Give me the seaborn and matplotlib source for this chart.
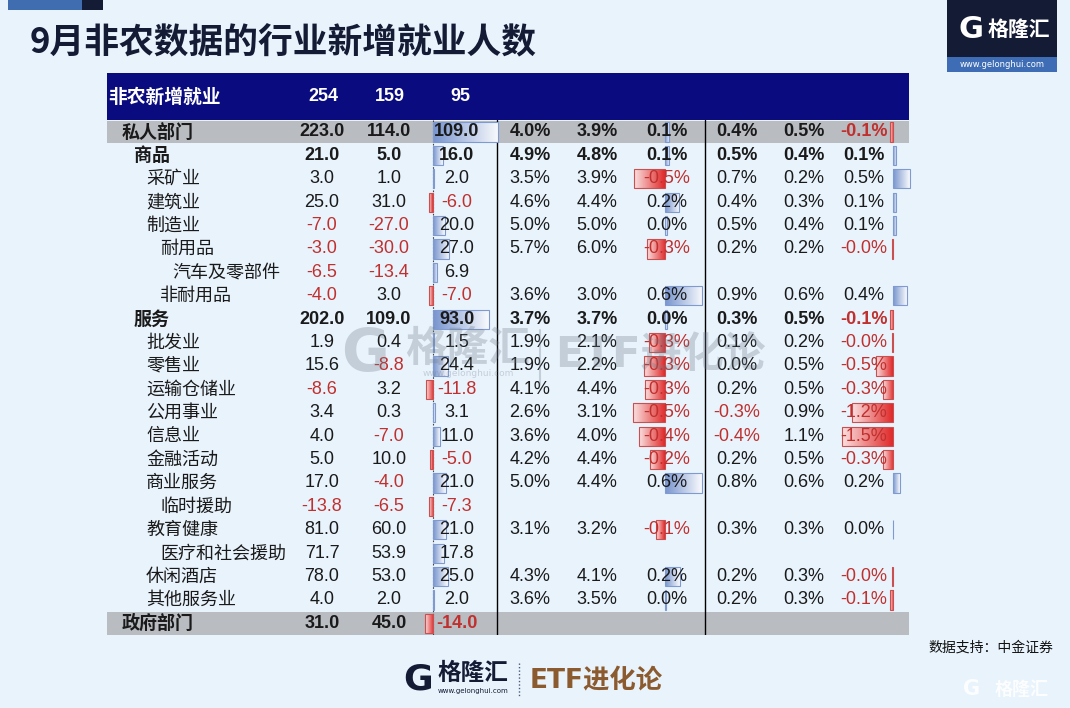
import numpy as np
import pandas as pd
import seaborn as sns
import matplotlib
matplotlib.use('Agg')
from matplotlib import pyplot as plt
from matplotlib.patches import Rectangle
from matplotlib.colors import LinearSegmentedColormap

# 行业名称与缩进层级
rows = ['私人部门', '商品', '采矿业', '建筑业', '制造业', '耐用品', '汽车及零部件', '非耐用品',
        '服务', '批发业', '零售业', '运输仓储业', '公用事业', '信息业', '金融活动', '商业服务',
        '临时援助', '教育健康', '医疗和社会援助', '休闲酒店', '其他服务业', '政府部门']
levels = [0, 1, 2, 2, 2, 3, 4, 3, 1, 2, 2, 2, 2, 2, 2, 2, 3, 2, 3, 2, 2, 0]
header_vals = ['254', '159', '95']

# 新增就业（千人）
jobs_a = [223.0, 21.0, 3.0, 25.0, -7.0, -3.0, -6.5, -4.0, 202.0, 1.9, 15.6, -8.6, 3.4, 4.0,
          5.0, 17.0, -13.8, 81.0, 71.7, 78.0, 4.0, 31.0]
jobs_b = [114.0, 5.0, 1.0, 31.0, -27.0, -30.0, -13.4, 3.0, 109.0, 0.4, -8.8, 3.2, 0.3, -7.0,
          10.0, -4.0, -6.5, 60.0, 53.9, 53.0, 2.0, 45.0]
jobs_diff = [109.0, 16.0, 2.0, -6.0, 20.0, 27.0, 6.9, -7.0, 93.0, 1.5, 24.4, -11.8, 3.1, 11.0,
             -5.0, 21.0, -7.3, 21.0, 17.8, 25.0, 2.0, -14.0]

nan = np.nan
# 薪资同比（%）
wage_a = [4.0, 4.9, 3.5, 4.6, 5.0, 5.7, nan, 3.6, 3.7, 1.9, 1.9, 4.1, 2.6, 3.6, 4.2, 5.0, nan,
          3.1, nan, 4.3, 3.6, nan]
wage_b = [3.9, 4.8, 3.9, 4.4, 5.0, 6.0, nan, 3.0, 3.7, 2.1, 2.2, 4.4, 3.1, 4.0, 4.4, 4.4, nan,
          3.2, nan, 4.1, 3.5, nan]
wage_diff = [0.07, 0.07, -0.5, 0.23, 0.03, -0.3, nan, 0.61, 0.03, -0.26, -0.34, -0.33, -0.53,
             -0.42, -0.24, 0.6, nan, -0.14, nan, 0.24, 0.02, nan]
# 薪资环比（%）
mom_a = [0.4, 0.5, 0.7, 0.4, 0.5, 0.2, nan, 0.9, 0.3, 0.1, 0.0, 0.2, -0.3, -0.4, 0.2, 0.8, nan,
         0.3, nan, 0.2, 0.2, nan]
mom_b = [0.5, 0.4, 0.2, 0.3, 0.4, 0.2, nan, 0.6, 0.5, 0.2, 0.5, 0.5, 0.9, 1.1, 0.5, 0.6, nan,
         0.3, nan, 0.3, 0.3, nan]
mom_diff = [-0.1, 0.1, 0.5, 0.1, 0.1, -0.02, nan, 0.4, -0.1, -0.02, -0.5, -0.3, -1.2, -1.5,
            -0.3, 0.2, nan, 0.0, nan, -0.02, -0.1, nan]

W, H = 1070, 708
BG = '#E8F3FC'
NAVY = '#0B0B80'
DARK = '#141B34'
RED = '#C0302E'
CJK = ['Noto Sans CJK SC', 'DejaVu Sans']
NUM = ['Liberation Sans', 'Noto Sans CJK SC']

sns.set_style('white')
plt.rcParams['font.family'] = CJK

fig = plt.figure(figsize=(W / 100, H / 100), dpi=100, facecolor=BG)

# 表格区域（行号为纵坐标，横向为像素）
row0, rowh, top_px = 132, 23.4, 73
bottom_px = row0 + rowh * (len(rows) - 0.5)
ytop = -0.5 - (row0 - rowh / 2 - top_px) / rowh
tab_pos = [0, 1 - bottom_px / H, 1, (bottom_px - top_px) / H]
ylims = (len(rows) - 0.5, ytop)

bg = fig.add_axes(tab_pos, zorder=0)
bg.set_xlim(0, W)
bg.set_ylim(*ylims)
bg.axis('off')
bg.add_patch(Rectangle((107, ytop), 802, -0.5 - ytop, color=NAVY, lw=0))
for i, lv in enumerate(levels):
    if lv == 0:
        bg.add_patch(Rectangle((107, i - 0.48), 802, 0.96, color='#B9BCC1', lw=0))
bg.plot([497, 497], [-0.5, len(rows) - 0.5], color='black', lw=1)
bg.plot([705, 705], [-0.5, len(rows) - 0.5], color='black', lw=1)
bg.plot([433, 433], [-0.5, len(rows) - 0.5], color='#444444', lw=0.8, ls=(0, (1.5, 1.5)))


def bar_column(values, x0, x1, zero, scale):
    bax = fig.add_axes([x0 / W, tab_pos[1], (x1 - x0) / W, tab_pos[3]], zorder=1)
    df = pd.DataFrame({'row': rows, 'v': values}).dropna()
    sns.barplot(data=df, x='v', y='row', order=rows, orient='h', errorbar=None,
                width=0.82, color='#5A7FC0', ax=bax)
    for p in list(bax.patches):
        w = p.get_width()
        if np.isnan(w):
            continue
        xa, xb = sorted([p.get_x(), p.get_x() + w])
        y0, h = p.get_y(), p.get_height()
        if w >= 0:
            solid, edge, grad = '#7895CE', '#7F9AD0', np.linspace(1, 0.05, 64)
        else:
            solid, edge, grad = '#E02A2A', '#C85050', np.linspace(0.15, 1, 64)
        cmap = LinearSegmentedColormap.from_list('g', ['#FFFFFF', solid])
        im = bax.imshow(grad[None, :], extent=[xa, xb, y0 + h, y0], cmap=cmap, vmin=0, vmax=1,
                        aspect='auto', interpolation='bilinear', zorder=1.5)
        im.set_clip_path(p)
        p.set_facecolor('none')
        p.set_edgecolor(edge)
        p.set_linewidth(0.8)
        p.set_zorder(2)
    bax.set_xlim((x0 - zero) / scale, (x1 - zero) / scale)
    bax.set_ylim(*ylims)
    bax.axis('off')
    bax.patch.set_alpha(0)


bar_column(jobs_diff, 415, 500, 433, 0.6)
bar_column(wage_diff, 620, 704, 665, 61)
bar_column(mom_diff, 830, 915, 893, 34)

# 文字层
tx = fig.add_axes(tab_pos, zorder=2)
tx.set_xlim(0, W)
tx.set_ylim(*ylims)
tx.axis('off')
tx.patch.set_alpha(0)

tx.text(108, -1.5, '非农新增就业', color='white', fontsize=13.5, fontweight='bold',
        va='center', family=CJK)
for x, s in zip([323, 390, 460], header_vals):
    tx.text(x, -1.5, s, color='white', fontsize=13, fontweight='bold', ha='center',
            va='center', family=NUM)

indent = {0: 122, 1: 134, 2: 146, 3: 160, 4: 172}
cols = [(jobs_a, 322, '{:.1f}'), (jobs_b, 389, '{:.1f}'), (jobs_diff, 457, '{:.1f}'),
        (wage_a, 530, '{:.1f}%'), (wage_b, 597, '{:.1f}%'), (wage_diff, 667, '{:.1f}%'),
        (mom_a, 737, '{:.1f}%'), (mom_b, 804, '{:.1f}%'), (mom_diff, 864, '{:.1f}%')]
for i, (name, lv) in enumerate(zip(rows, levels)):
    wt = 'bold' if lv <= 1 else 'normal'
    tx.text(indent[lv], i, name, fontsize=13, fontweight=wt, va='center', family=CJK,
            color='#1A1A1A')
    for vals, x, fmt in cols:
        v = vals[i]
        if np.isnan(v):
            continue
        s = fmt.format(v)
        c = RED if s.startswith('-') else '#1A1A1A'
        tx.text(x, i, s, fontsize=13, fontweight=wt, ha='center', va='center', color=c,
                family=NUM)

# 标题与装饰
fig.text(30 / W, 1 - 43 / H, '9月非农数据的行业新增就业人数', fontsize=25, fontweight='bold',
         color=DARK, va='center', family=CJK)
deco = fig.add_axes([0, 0, 1, 1], zorder=3)
deco.set_xlim(0, W)
deco.set_ylim(H, 0)
deco.axis('off')
deco.patch.set_alpha(0)
deco.add_patch(Rectangle((8, 0), 74, 10, color='#3F6DB0', lw=0))
deco.add_patch(Rectangle((82, 0), 21, 10, color=DARK, lw=0))
deco.add_patch(Rectangle((947, 0), 110, 57, color=DARK, lw=0))
deco.add_patch(Rectangle((947, 57), 110, 15, color='#3E6DB5', lw=0))
deco.text(971, 29, 'G', color='white', fontsize=22, fontweight='bold', ha='center',
          va='center', family=['DejaVu Sans'])
deco.text(1019, 29, '格隆汇', color='white', fontsize=15, fontweight='bold', ha='center',
          va='center', family=CJK)
deco.text(1002, 64.5, 'www.gelonghui.com', color='white', fontsize=6, ha='center',
          va='center', family=['DejaVu Sans'])

deco.text(928, 648, '数据支持：中金证券', fontsize=10, color='#111111', va='center', family=CJK)

# 底部标识
deco.text(418, 679, 'G', color=DARK, fontsize=26, fontweight='bold', ha='center', va='center',
          family=['DejaVu Sans'])
deco.text(473, 673, '格隆汇', color=DARK, fontsize=17, fontweight='bold', ha='center',
          va='center', family=CJK)
deco.text(473, 691, 'www.gelonghui.com', color=DARK, fontsize=5, ha='center', va='center',
          family=['DejaVu Sans'])
deco.plot([519, 519], [663, 697], color='#4A5A7A', lw=1, ls=(0, (1, 1.5)))
deco.text(530, 680, 'ETF进化论', color='#8B5A2E', fontsize=19, fontweight='bold', va='center',
          family=['DejaVu Sans', 'Noto Sans CJK SC'])

# 水印
wm = '#6E7A88'
deco.text(365, 355, 'G', color=wm, alpha=0.3, fontsize=42, fontweight='bold', ha='center',
          va='center', family=['DejaVu Sans'])
deco.text(468, 349, '格隆汇', color=wm, alpha=0.3, fontsize=30, fontweight='bold', ha='center',
          va='center', family=CJK)
deco.text(468, 374, 'www.gelonghui.com', color=wm, alpha=0.3, fontsize=6.5, ha='center',
          va='center', family=['DejaVu Sans'])
deco.plot([540, 540], [330, 385], color=wm, alpha=0.3, lw=1.5)
deco.text(555, 355, 'ETF进化论', color=wm, alpha=0.3, fontsize=30, fontweight='bold',
          va='center', family=['DejaVu Sans', 'Noto Sans CJK SC'])
deco.text(972, 689, 'G', color='white', alpha=0.85, fontsize=15, fontweight='bold', ha='center',
          va='center', family=['DejaVu Sans'])
deco.text(1022, 689, '格隆汇', color='white', alpha=0.85, fontsize=13, fontweight='bold',
          ha='center', va='center', family=CJK)

fig.savefig('out.png', dpi=100, facecolor=BG)
